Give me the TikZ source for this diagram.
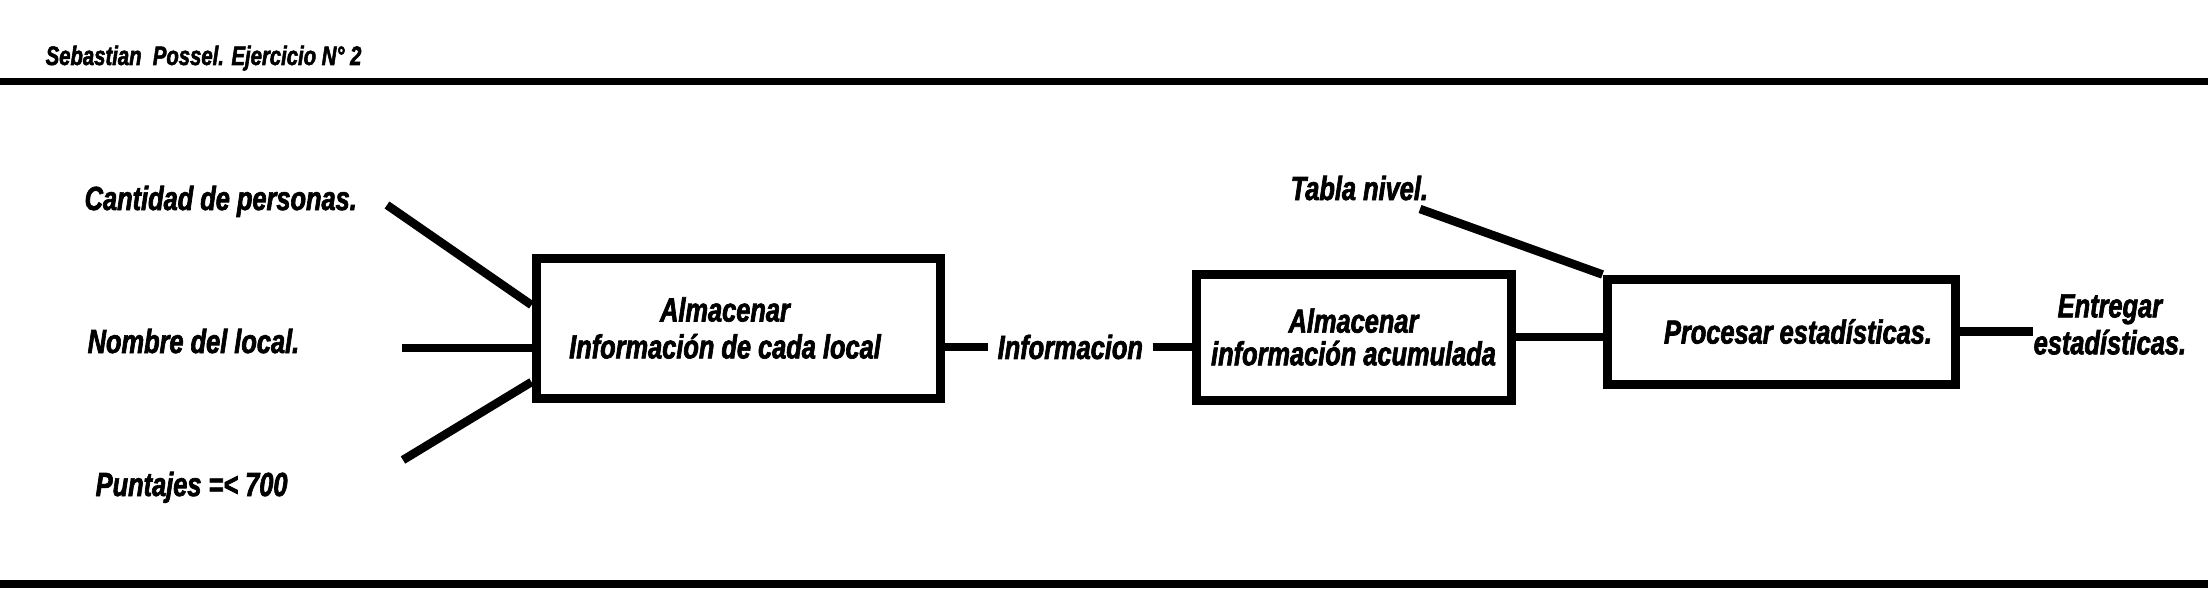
\documentclass[tikz,border=0pt]{standalone}
\usepackage{fontspec}
\usepackage{tikz}
\newfontfamily\impactfont{Liberation Sans}[FakeStretch=0.76, FakeBold=2]

\begin{document}
\begin{tikzpicture}[
    font=\impactfont\bfseries\itshape\fontsize{9.5}{10.5}\selectfont,
    box/.style={draw, line width=0.09cm, inner sep=0pt, align=center},
    wire/.style={line width=0.085cm},
    lbl/.style={inner sep=0pt}]
  \useasboundingbox (0,0) rectangle (22.08,-6.12);

  \node[lbl, anchor=base west, font=\impactfont\bfseries\itshape\fontsize{7.6}{9}\selectfont]
    (autor) at (0.45,-0.65) {Sebastian\ \ Possel. Ejercicio N° 2};
  \draw[line width=0.075cm] (0,-0.815) -- (22.08,-0.815);
  \draw[line width=0.08cm] (0,-5.84) -- (22.08,-5.84);

  \node[box, minimum width=4.04cm, minimum height=1.40cm]
    (almacen) at (7.38,-3.28) {Almacenar\hspace*{0.26cm}\\Información de cada local\hspace*{0.26cm}};
  \node[box, minimum width=3.15cm, minimum height=1.26cm,
        font=\impactfont\bfseries\itshape\fontsize{9.5}{9.3}\selectfont]
    (acumul) at (13.535,-3.37) {Almacenar\\información acumulada};
  \node[box, minimum width=3.48cm, minimum height=1.05cm]
    (procesar) at (17.81,-3.315) {\hspace*{0.34cm}Procesar estadísticas.};

  \node[lbl, anchor=base west] (cantidad) at (0.84,-2.10) {Cantidad de personas.};
  \node[lbl, anchor=base west] (nombre) at (0.87,-3.53) {Nombre del local.};
  \node[lbl, anchor=base west] (puntajes) at (0.95,-4.96) {Puntajes =< 700};
  \node[lbl, anchor=base west] (tabla) at (12.90,-2.00) {Tabla nivel.};
  \node[lbl, inner xsep=0.09cm, anchor=west] (info) at (9.88,-3.47) {Informacion};
  \node[lbl, anchor=west, align=center] (entregar) at (20.33,-3.245) {Entregar\\estadísticas.};

  \coordinate (cantidad-end) at (3.87,-2.05);
  \coordinate (nombre-end) at (4.02,-3.48);
  \coordinate (puntajes-end) at (4.03,-4.60);
  \coordinate (tabla-end) at (14.20,-2.09);

  \draw[wire] (cantidad-end) -- ([yshift=0.23cm]almacen.west);
  \draw[wire] (nombre-end) -- ([yshift=-0.20cm]almacen.west);
  \draw[wire] (puntajes-end) -- ([yshift=-0.54cm]almacen.west);
  \draw[wire] (info.west -| almacen.east) -- (info.west);
  \draw[wire] (info.east) -- (info.east -| acumul.west);
  \draw[wire] (acumul.east) -- (acumul.east -| procesar.west);
  \draw[wire] (procesar.east) -- (procesar.east -| entregar.west);
  \draw[wire] (tabla-end) -- (procesar.north west);
\end{tikzpicture}
\end{document}
